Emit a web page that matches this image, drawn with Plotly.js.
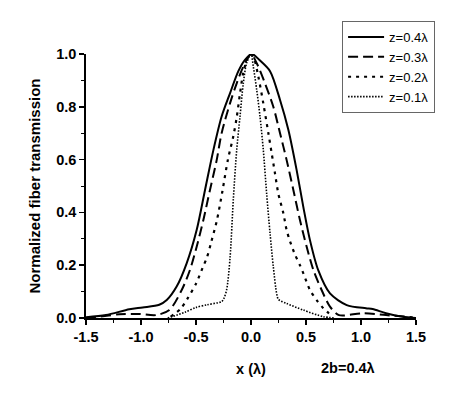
<!DOCTYPE html>
<html>
<head>
<meta charset="utf-8">
<script src="https://cdn.plot.ly/plotly-3.0.1.min.js"></script>
<style>html,body{margin:0;padding:0;background:#fff;}#chart{width:474px;height:398px;}</style>
</head>
<body>
<div id="chart"></div>
<script>
// Series names
var seriesNames = ["z=0.4\u03bb", "z=0.3\u03bb", "z=0.2\u03bb", "z=0.1\u03bb"];

// z = 0.4 lambda (solid)
var xZ04 = [-1.5,-1.318,-1.106,-0.985,-0.834,-0.766,-0.676,-0.585,-0.494,-0.418,-0.342,-0.267,-0.191,-0.115,-0.055,0.01,0.075,0.173,0.264,0.34,0.415,0.476,0.536,0.612,0.718,0.87,1.045,1.106,1.227,1.379,1.5];
var yZ04 = [0.003,0.011,0.033,0.04,0.05,0.068,0.119,0.207,0.333,0.485,0.636,0.763,0.851,0.935,0.978,1.0,0.978,0.935,0.826,0.712,0.56,0.42,0.295,0.18,0.093,0.049,0.037,0.034,0.018,0.005,0.0];

// z = 0.3 lambda (dashed)
var xZ03 = [-1.5,-1.44,-1.197,-1.015,-0.864,-0.742,-0.63,-0.555,-0.494,-0.433,-0.373,-0.312,-0.267,-0.191,-0.13,-0.07,0.0,0.052,0.127,0.203,0.264,0.324,0.385,0.445,0.506,0.567,0.642,0.718,0.80,1.015,1.227,1.47];
var yZ03 = [0,0.002,0.014,0.015,0.011,0.03,0.106,0.182,0.27,0.371,0.485,0.598,0.70,0.813,0.889,0.952,1.0,0.965,0.889,0.80,0.70,0.598,0.485,0.371,0.27,0.182,0.106,0.043,0.011,0.018,0.011,0.003];

// z = 0.2 lambda (short dash)
var xZ02 = [-0.73,-0.64,-0.575,-0.5,-0.44,-0.4,-0.36,-0.31,-0.26,-0.21,-0.16,-0.13,-0.1,-0.07,-0.03,0,0.03,0.067,0.112,0.158,0.188,0.218,0.248,0.294,0.324,0.355,0.4,0.445,0.476,0.536,0.597,0.658,0.742];
var yZ02 = [0.005,0.035,0.075,0.13,0.19,0.23,0.29,0.37,0.48,0.6,0.69,0.76,0.85,0.93,0.985,1.0,0.98,0.914,0.813,0.70,0.624,0.548,0.472,0.397,0.333,0.29,0.24,0.2,0.169,0.106,0.068,0.037,0.005];

// z = 0.1 lambda (fine dots)
var xZ01 = [-0.757,-0.6,-0.5,-0.4,-0.3,-0.267,-0.245,-0.22,-0.19,-0.161,-0.13,-0.1,-0.07,-0.04,0,0.021,0.052,0.082,0.112,0.142,0.173,0.203,0.233,0.25,0.324,0.476,0.658,0.76];
var yZ01 = [0,0.022,0.04,0.05,0.058,0.062,0.075,0.11,0.23,0.447,0.636,0.763,0.889,0.965,1.0,0.952,0.864,0.763,0.636,0.472,0.321,0.194,0.093,0.07,0.055,0.03,0.005,0];

// Tick labels
var xTickVals = [-1.5,-1.0,-0.5,0.0,0.5,1.0,1.5];
var xTickText = ["-1.5","-1.0","-0.5","0.0","0.5","1.0","1.5"];
var yTickVals = [0.0,0.2,0.4,0.6,0.8,1.0];
var yTickText = ["0.0","0.2","0.4","0.6","0.8","1.0"];

var styles = [
  {dash:"solid", width:2},
  {dash:"10px,5px", width:2},
  {dash:"3px,5px", width:2.2},
  {dash:"1.5px,1.5px", width:1.6}
];
var xs = [xZ04, xZ03, xZ02, xZ01];
var ys = [yZ04, yZ03, yZ02, yZ01];

var traces = xs.map(function(x, i){
  return {
    x: x, y: ys[i], name: seriesNames[i], type: "scatter", mode: "lines",
    cliponaxis: false,
    line: {color:"#000", width: styles[i].width, dash: styles[i].dash, shape:"spline", smoothing:0.8}
  };
});

var bold = {family:"Liberation Sans, Arial, sans-serif", size:14.5, color:"#000", weight:"bold"};
var boldTitle = {family:"Liberation Sans, Arial, sans-serif", size:15, color:"#000", weight:"bold"};

var layout = {
  width:474, height:398,
  margin:{l:86, r:58, t:54, b:80},
  paper_bgcolor:"#fff", plot_bgcolor:"#fff",
  showlegend:true,
  legend:{x:0.776, y:1.125, xanchor:"left", yanchor:"top", bgcolor:"#fff", bordercolor:"#666", borderwidth:1,
          font:{family:"Liberation Sans, Arial, sans-serif", size:13, color:"#000"}, itemwidth:36, tracegroupgap:0},
  xaxis:{range:[-1.5,1.5], tickvals:xTickVals, ticktext:xTickText, showgrid:false, zeroline:false,
         showline:true, linecolor:"#000", linewidth:1.8, ticks:"outside", ticklen:5, tickwidth:1.5, tickcolor:"#000",
         minor:{dtick:0.25, tick0:0, ticks:"outside", ticklen:3, tickwidth:1, tickcolor:"#000"},
         tickfont:bold, title:{text:"x (\u03bb)", font:bold, standoff:20}},
  yaxis:{range:[0,1.0], tickvals:yTickVals, ticktext:yTickText, showgrid:false, zeroline:false,
         showline:true, linecolor:"#000", linewidth:1.8, ticks:"outside", ticklen:5, tickwidth:1.5, tickcolor:"#000",
         minor:{dtick:0.1, tick0:0, ticks:"outside", ticklen:3, tickwidth:1, tickcolor:"#000"},
         tickfont:bold, title:{text:"Normalized fiber transmission", font:boldTitle, standoff:12}},
  annotations:[{xref:"paper", yref:"paper", x:(348-86)/330, y:(318-368)/264, xanchor:"center", yanchor:"middle",
                text:"2b=0.4\u03bb", showarrow:false, font:bold}]
};

Plotly.newPlot("chart", traces, layout, {displayModeBar:false, staticPlot:true});
</script>
</body>
</html>
